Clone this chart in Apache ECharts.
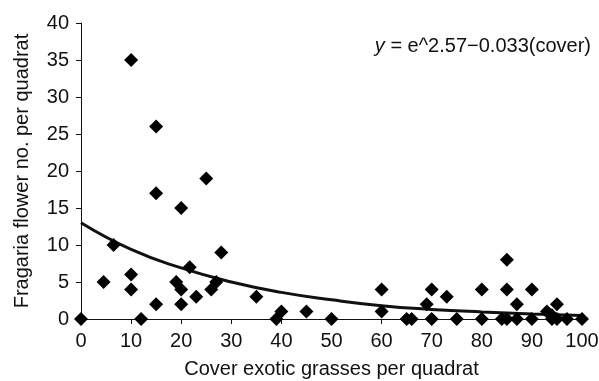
<!DOCTYPE html>
<html>
<head>
<meta charset="utf-8">
<script src="https://cdn.jsdelivr.net/npm/echarts@6/dist/echarts.min.js"></script>
<style>
  html, body { margin: 0; padding: 0; background: #fff; }
  #chart { width: 599px; height: 381px; }
</style>
</head>
<body>
<div id="chart"></div>
<script>
// cover (x) and flower count (y)
const coverValues = [0, 4.5, 6.5, 10, 10, 10, 12, 15, 15, 15, 19, 20, 20, 20, 21.7, 23, 25, 26, 27, 28, 35,
  39, 40, 45, 50, 60, 60, 65, 66, 69, 70, 70, 73, 75, 80, 80, 84, 85, 85, 85, 87, 87, 90, 90,
  93, 94, 94, 95, 95, 97, 100];
const flowerValues = [0, 5, 10, 35, 6, 4, 0, 26, 17, 2, 5, 15, 4, 2, 7, 3, 19, 4, 5, 9, 3,
  0, 1, 1, 0, 4, 1, 0, 0, 2, 4, 0, 3, 0, 4, 0, 0, 8, 4, 0, 2, 0, 4, 0,
  1, 0, 0.5, 2, 0, 0, 0];
// fitted curve
const fitX = [0, 10, 20, 30, 40, 50, 60, 70, 80, 90, 100];
const fitY = [13, 9.4, 6.9, 5, 3.6, 2.6, 1.8, 1.3, 0.95, 0.68, 0.48];

const xTicks = { min: 0, max: 100, interval: 10 };
const yTicks = { min: 0, max: 40, interval: 5 };

const points = coverValues.map((c, i) => [c, flowerValues[i]]);
const fitLine = fitX.map((c, i) => [c, fitY[i]]);

const font = 'Liberation Sans, Arial, Helvetica, sans-serif';
const ink = '#111';
const fs = 20;

const myChart = echarts.init(document.getElementById('chart'));
myChart.setOption({
    animation: false,
    backgroundColor: '#fff',
    grid: { left: 81, right: 17, top: 23, bottom: 62, outerBoundsMode: 'none', containLabel: false },
    title: {
        right: 3,
        top: 31,
        text: '{i|y} = e^2.57\u22120.033(cover)',
        textStyle: {
            fontFamily: font, fontSize: fs, fontWeight: 'normal', color: ink,
            rich: { i: { fontFamily: font, fontSize: fs, fontStyle: 'italic', color: ink } }
        }
    },
    xAxis: {
        type: 'value',
        min: xTicks.min, max: xTicks.max, interval: xTicks.interval,
        name: 'Cover exotic grasses per quadrat',
        nameLocation: 'middle',
        nameGap: 40,
        nameTextStyle: { fontFamily: font, fontSize: fs, color: ink },
        axisLine: { show: true, lineStyle: { color: ink, width: 1 } },
        axisTick: { show: true, length: 5, lineStyle: { color: ink } },
        axisLabel: { fontFamily: font, fontSize: fs, color: ink, margin: 12 },
        splitLine: { show: false }
    },
    yAxis: {
        type: 'value',
        min: yTicks.min, max: yTicks.max, interval: yTicks.interval,
        name: 'Fragaria flower no. per quadrat',
        nameLocation: 'middle',
        nameGap: 49,
        nameTextStyle: { fontFamily: font, fontSize: fs, color: ink },
        axisLine: { show: true, lineStyle: { color: ink, width: 1 } },
        axisTick: { show: true, length: 5, lineStyle: { color: ink } },
        axisLabel: { fontFamily: font, fontSize: fs, color: ink, margin: 12 },
        splitLine: { show: false }
    },
    series: [
        {
            type: 'line',
            data: fitLine,
            smooth: true,
            symbol: 'none',
            lineStyle: { color: ink, width: 3 },
            z: 2
        },
        {
            type: 'scatter',
            data: points,
            symbol: 'diamond',
            symbolSize: 14,
            itemStyle: { color: '#000', opacity: 1 },
            z: 3
        }
    ]
});
</script>
</body>
</html>
